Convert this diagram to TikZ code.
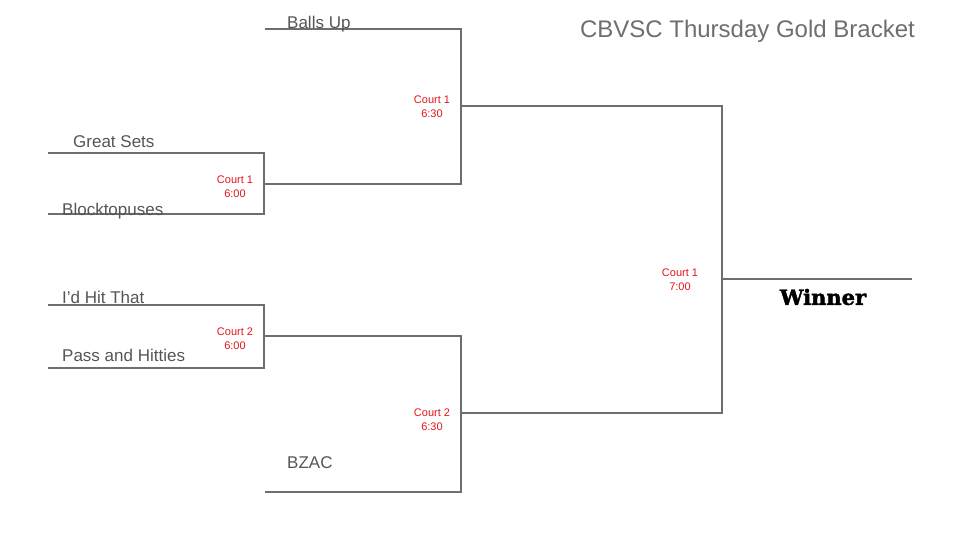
\documentclass[tikz,border=0pt]{standalone}
\usepackage{fontspec}
\setmainfont{Liberation Sans}
\newfontfamily\winnerfont{DejaVu Serif}[BoldFeatures={FakeBold=2}]
\definecolor{linegray}{HTML}{6E6E6E}
\definecolor{textgray}{HTML}{555555}
\definecolor{courtred}{HTML}{E3141B}

\tikzset{%
  bracket/.style={
    draw=linegray,
    line width=2pt
  },
  team/.style={
    anchor=west,
    inner sep=0pt,
    text=textgray,
    font=\fontsize{17}{20}\selectfont
  },
  court/.style={
    align=center,
    inner sep=0pt,
    text=courtred,
    font=\fontsize{11}{14}\selectfont
  },
}

\begin{document}
\begin{tikzpicture}[x=1pt, y=-1pt]
  \useasboundingbox (0,0) rectangle (960,540);
  % draw first round lines
  \foreach \m/\y in {1/153,2/214,3/305,4/368}
  {
    \coordinate (team-\m-l) at (48,\y);
    \coordinate (team-\m-r) at (264,\y);
  }
  % byes
  \coordinate (bye-1-l) at (265,29);
  \coordinate (bye-1-r) at (461,29);
  \coordinate (bye-2-l) at (265,492);
  \coordinate (bye-2-r) at (461,492);

  % match points
  \coordinate (match-1) at (264,184);
  \coordinate (match-2) at (264,336);
  \coordinate (semi-1) at (461,106);
  \coordinate (semi-2) at (461,413);
  \coordinate (final-1) at (722,106);
  \coordinate (final-2) at (722,413);
  \coordinate (final) at (722,279);
  \coordinate (winner) at (912,279);

  \draw [bracket] (team-1-l) -- (team-1-r) -- (team-2-r) -- (team-2-l);
  \draw [bracket] (team-3-l) -- (team-3-r) -- (team-4-r) -- (team-4-l);
  \draw [bracket] (bye-1-l) -- (bye-1-r) -- (match-1 -| bye-1-r) -- (match-1);
  \draw [bracket] (bye-2-l) -- (bye-2-r) -- (match-2 -| bye-2-r) -- (match-2);
  \draw [bracket] (semi-1) -- (final-1) -- (final-2) -- (semi-2);
  \draw [bracket] (final) -- (winner);

  % team names
  \node [team] (balls) at (287,24) {Balls Up};
  \node [team] (great) at (73,142) {Great Sets};
  \node [team] (block) at (62,211) {Blocktopuses};
  \node [team] (hit) at (62,297) {I’d Hit That};
  \node [team] (pass) at (62,355) {Pass and Hitties};
  \node [team] (bzac) at (287,463) {BZAC};

  % court and time
  \node [court] (court-m1) at (235,187) {Court 1\\6:00};
  \node [court] (court-m2) at (235,339) {Court 2\\6:00};
  \node [court] (court-s1) at (432,107) {Court 1\\6:30};
  \node [court] (court-s2) at (432,420) {Court 2\\6:30};
  \node [court] (court-f) at (680,280) {Court 1\\7:00};

  \node [inner sep=0pt, font=\winnerfont\bfseries\fontsize{21}{24}\selectfont] (win) at (823,297) {Winner};
  \node [anchor=east, inner sep=0pt, text=linegray, font=\fontsize{24}{28}\selectfont] (title) at (915,31) {CBVSC Thursday Gold Bracket};
\end{tikzpicture}
\end{document}
